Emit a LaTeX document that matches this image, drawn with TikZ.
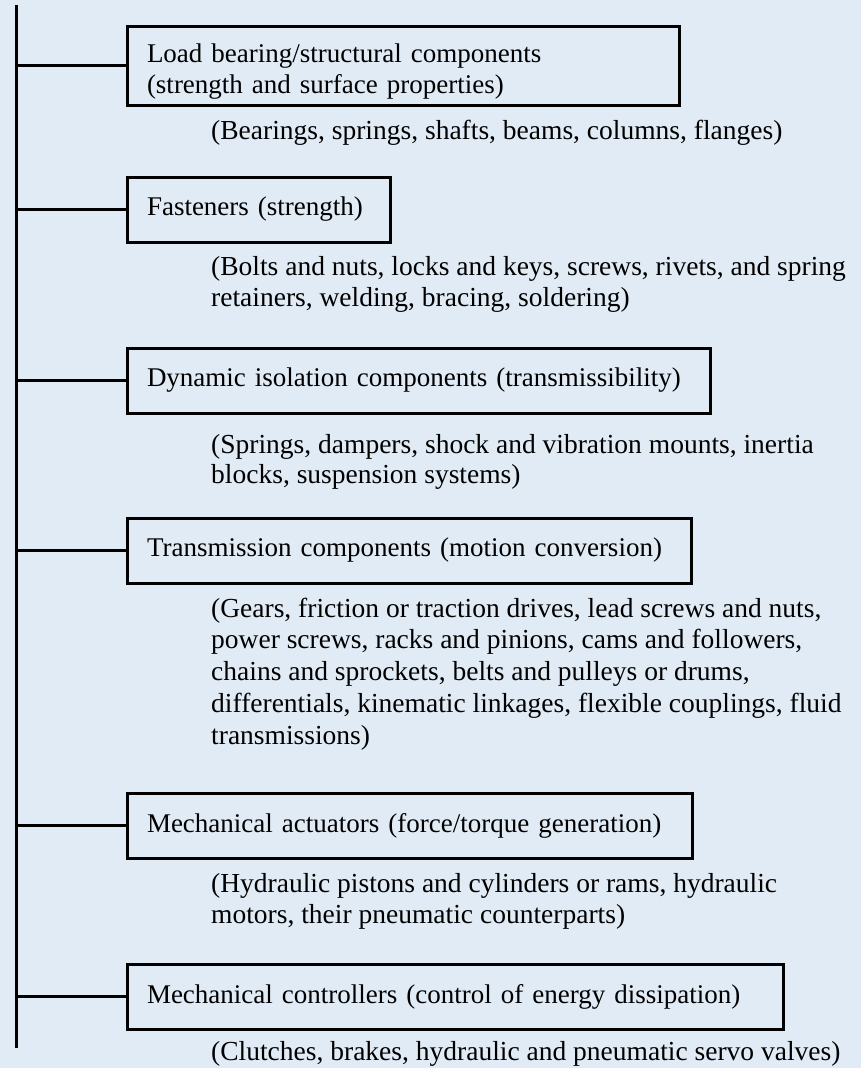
\documentclass[tikz,border=0pt]{standalone}
\usepackage{fontspec}
\setmainfont{Liberation Serif}
\definecolor{paneblue}{RGB}{225,235,245}
\begin{document}
\begin{tikzpicture}[x=1pt,y=-1pt,
  catbox/.style={draw=black, line width=3pt, inner xsep=20pt, inner ysep=0pt,
    align=left, anchor=center, font=\fontsize{27}{31}\selectfont},
  link/.style={line width=3pt},
  % multi-line nodes sit on the baseline of their last line
  examples/.style={anchor=base west, inner sep=0pt, align=left,
    font=\fontsize{27.5}{31}\selectfont},
]
% page background
\fill[paneblue] (0,0) rectangle (861,1068);
\useasboundingbox (0,0) rectangle (861,1068);

% spine
\coordinate (top) at (16,5);
\coordinate (bot) at (16,1048);
\draw[link] (top) -- (bot);

% categories
\node[catbox, minimum width=552pt, text width=512pt, minimum height=79pt,
      text height=30pt, text depth=37pt] (b1) at (403,65.5)
  {Load bearing/structural components\\(strength and surface properties)};
\node[catbox, minimum width=263pt, text width=223pt, minimum height=65pt] (b2) at (258.5,209.5)
  {Fasteners (strength)};
\node[catbox, minimum width=583pt, text width=543pt, minimum height=65pt] (b3) at (418.5,380.5)
  {Dynamic isolation components (transmissibility)};
\node[catbox, minimum width=564pt, text width=524pt, minimum height=65pt] (b4) at (409,550.5)
  {Transmission components (motion conversion)};
\node[catbox, minimum width=565pt, text width=525pt, minimum height=65pt] (b5) at (409.5,825.5)
  {Mechanical actuators (force/torque generation)};
\node[catbox, minimum width=656pt, text width=616pt, minimum height=65pt] (b6) at (455,996.5)
  {Mechanical controllers (control of energy dissipation)};

% branches from the spine
\foreach \b in {b1,b2,b3,b4,b5,b6}
  \draw[link] (\b.west -| top) -- (\b.west);

% examples under each category
\node[examples] (e1) at (211,139)
  {(Bearings, springs, shafts, beams, columns, flanges)};
\node[examples] (e2) at (211,306)
  {(Bolts and nuts, locks and keys, screws, rivets, and spring\\retainers, welding, bracing, soldering)};
\node[examples, font=\fontsize{27.5}{30}\selectfont] (e3) at (211,483)
  {(Springs, dampers, shock and vibration mounts, inertia\\blocks, suspension systems)};
\node[examples, font=\fontsize{27.5}{31.7}\selectfont] (e4) at (211,744)
  {(Gears, friction or traction drives, lead screws and nuts,\\power screws, racks and pinions, cams and followers,\\chains and sprockets, belts and pulleys or drums,\\differentials, kinematic linkages, flexible couplings, fluid\\transmissions)};
\node[examples] (e5) at (211,923)
  {(Hydraulic pistons and cylinders or rams, hydraulic\\motors, their pneumatic counterparts)};
\node[examples] (e6) at (211,1060)
  {(Clutches, brakes, hydraulic and pneumatic servo valves)};
\end{tikzpicture}
\end{document}
